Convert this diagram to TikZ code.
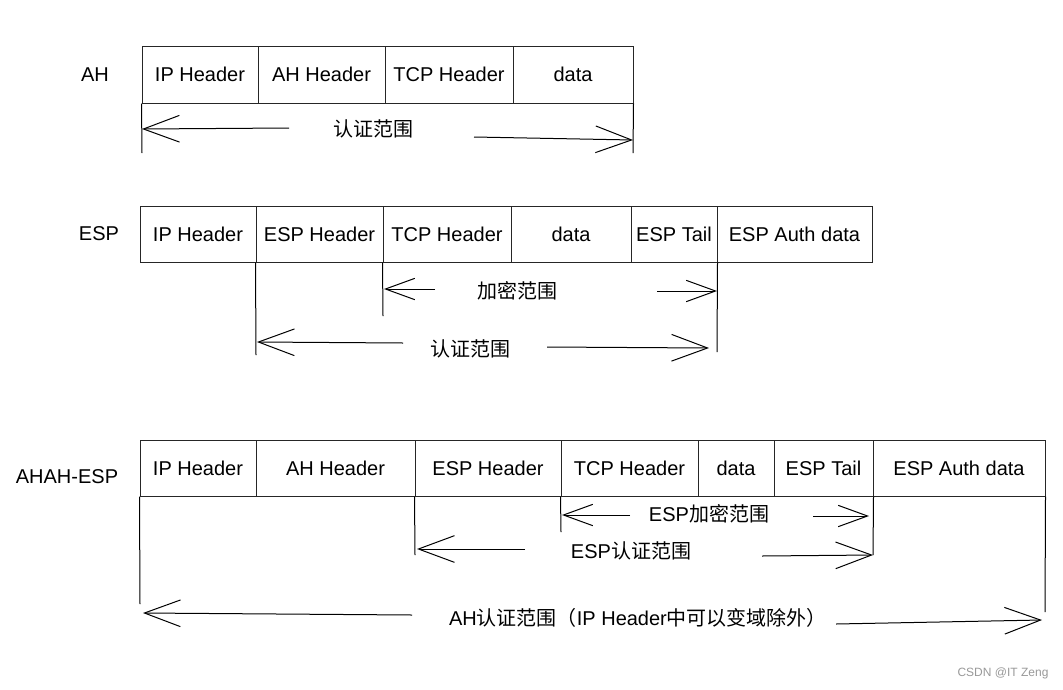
\documentclass[tikz,border=0pt]{standalone}
\usepackage{fontspec}
\setmainfont{Liberation Sans}
\newfontfamily\cjk{Noto Sans CJK SC}
\usetikzlibrary{arrows.meta}
\begin{document}
\begin{tikzpicture}[x=0.75pt,y=-0.75pt,
  cell/.style={draw=black!85, line width=0.75pt, inner sep=0pt, font=\fontsize{15}{18}\selectfont},
  lbl/.style={inner sep=0pt, font=\fontsize{15}{18}\selectfont},
  ext/.style={line width=0.75pt},
  rng/.style={line width=0.75pt, -{Straight Barb[length=27pt,width=20pt]}},
  rngs/.style={line width=0.75pt, -{Straight Barb[length=22pt,width=16pt]}},
  wmark/.style={inner sep=0pt, text=black!40, font=\fontsize{9}{11}\selectfont}]
\useasboundingbox (0,0) rectangle (1063,689);
\fill[white] (0,0) rectangle (1063,689);

% ---------------- AH ----------------
\node[lbl] (lAH) at (95,75) {AH};
\node[cell, minimum width=87pt,    minimum height=42.75pt] (a1) at (200,74.5)   {IP Header};
\node[cell, minimum width=95.25pt, minimum height=42.75pt] (a2) at (321.5,74.5) {AH Header};
\node[cell, minimum width=96pt,    minimum height=42.75pt] (a3) at (449,74.5)   {TCP Header};
\node[cell, minimum width=90pt,    minimum height=42.75pt] (a4) at (573,74.5)   {data};
\coordinate (av1) at (142,153);
\coordinate (av2) at (633,153);
\draw[ext] (a1.south west) -- (av1);
\draw[ext] (a4.south east) -- (av2);
\node[lbl] (tA) at (373,129) {\cjk 认证范围};
\coordinate (aLi) at (289,128); \coordinate (aLo) at (142,129);
\coordinate (aRi) at (474,137); \coordinate (aRo) at (633,140);
\draw[rng] (aLi) -- (aLo);
\draw[rng] (aRi) -- (aRo);

% ---------------- ESP ----------------
\node[lbl] (lESP) at (99,234) {ESP};
\node[cell, minimum width=87pt,     minimum height=42pt] (e1) at (198,234)   {IP Header};
\node[cell, minimum width=95.25pt,  minimum height=42pt] (e2) at (319.5,234) {ESP Header};
\node[cell, minimum width=96pt,     minimum height=42pt] (e3) at (447,234)   {TCP Header};
\node[cell, minimum width=90pt,     minimum height=42pt] (e4) at (571,234)   {data};
\node[cell, minimum width=64.5pt,   minimum height=42pt] (e5) at (674,234)   {ESP Tail};
\node[cell, minimum width=116.25pt, minimum height=42pt] (e6) at (794.5,234) {ESP Auth data};
\coordinate (ev1) at (383,316);
\coordinate (ev2) at (717,352);
\coordinate (ev3) at (256,355);
\draw[ext] (e3.south west) -- (ev1);
\draw[ext] (e5.south east) -- (ev2);
\draw[ext] (e2.south west) -- (ev3);
\node[lbl] (tE1) at (517,291) {\cjk 加密范围};
\coordinate (e1Li) at (435,289); \coordinate (e1Lo) at (384,289);
\coordinate (e1Ri) at (657,291); \coordinate (e1Ro) at (717,291);
\draw[rngs] (e1Li) -- (e1Lo);
\draw[rngs] (e1Ri) -- (e1Ro);
\node[lbl] (tE2) at (470,349) {\cjk 认证范围};
\coordinate (e2Li) at (403,343); \coordinate (e2Lo) at (257,342);
\coordinate (e2Ri) at (547,347); \coordinate (e2Ro) at (709,348);
\draw[rng] (e2Li) -- (e2Lo);
\draw[rng] (e2Ri) -- (e2Ro);

% ---------------- AHAH-ESP ----------------
\node[lbl] (lAE) at (67,477) {AHAH-ESP};
\node[cell, minimum width=87pt,     minimum height=42pt] (h1) at (198,468)   {IP Header};
\node[cell, minimum width=119.25pt, minimum height=42pt] (h2) at (335.5,468) {AH Header};
\node[cell, minimum width=109.5pt,  minimum height=42pt] (h3) at (488,468)   {ESP Header};
\node[cell, minimum width=102.75pt, minimum height=42pt] (h4) at (629.5,468) {TCP Header};
\node[cell, minimum width=57pt,     minimum height=42pt] (h5) at (736,468)   {data};
\node[cell, minimum width=74.25pt,  minimum height=42pt] (h6) at (823.5,468) {ESP Tail};
\node[cell, minimum width=129pt,    minimum height=42pt] (h7) at (959,468)   {ESP Auth data};
\coordinate (hv1) at (140,604);
\coordinate (hv2) at (1045,612);
\coordinate (hv3) at (415,555);
\coordinate (hv4) at (561,532);
\coordinate (hv5) at (873,555);
\draw[ext] (h1.south west) -- (hv1);
\draw[ext] (h7.south east) -- (hv2);
\draw[ext] (h3.south west) -- (hv3);
\draw[ext] (h4.south west) -- (hv4);
\draw[ext] (h6.south east) -- (hv5);
\node[lbl] (tH1) at (709,514) {ESP{\cjk 加密范围}};
\coordinate (h1Li) at (630,515); \coordinate (h1Lo) at (562,515);
\coordinate (h1Ri) at (813,516); \coordinate (h1Ro) at (869,516);
\draw[rngs] (h1Li) -- (h1Lo);
\draw[rngs] (h1Ri) -- (h1Ro);
\node[lbl] (tH2) at (631,551) {ESP{\cjk 认证范围}};
\coordinate (h2Li) at (525,549); \coordinate (h2Lo) at (417,549);
\coordinate (h2Ri) at (762,556); \coordinate (h2Ro) at (873,555);
\draw[rng] (h2Li) -- (h2Lo);
\draw[rng] (h2Ri) -- (h2Ro);
\node[lbl] (tH3) at (638,618) {AH{\cjk 认证范围（}IP Header{\cjk 中可以变域除外）}};
\coordinate (h3Li) at (412,615); \coordinate (h3Lo) at (143,613);
\coordinate (h3Ri) at (836,624); \coordinate (h3Ro) at (1042,620);
\draw[rng] (h3Li) -- (h3Lo);
\draw[rng] (h3Ri) -- (h3Ro);

\node[wmark] (wm) at (1003,673) {CSDN @IT Zeng};
\end{tikzpicture}
\end{document}
